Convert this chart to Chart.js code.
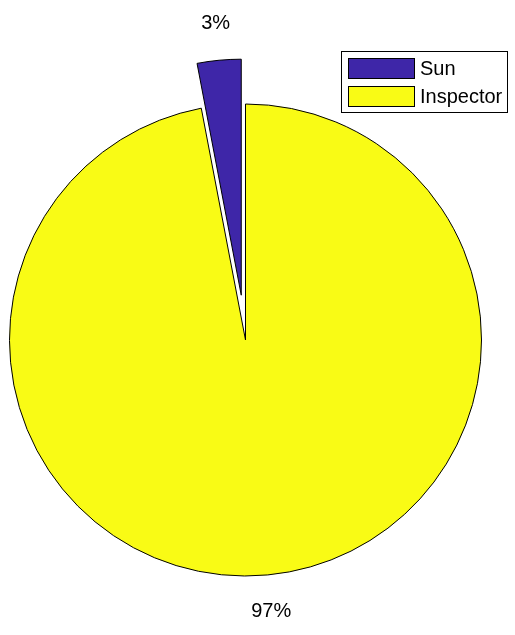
<!DOCTYPE html>
<html>
<head>
<meta charset="utf-8">
<script src="https://cdn.jsdelivr.net/npm/chart.js@4.4.0/dist/chart.umd.min.js"></script>
<style>
  html, body { margin: 0; padding: 0; background: #fff; }
  #wrap { width: 515px; height: 635px; position: relative; }
</style>
</head>
<body>
<div id="wrap"><canvas id="pie"></canvas></div>
<script>
const labels = ['Sun', 'Inspector'];
const values = [3, 97];
const colors = ['#3E26A8', '#F9FB15'];
const explode = [true, false];

const total = values.reduce((a, b) => a + b, 0);
const FONT = '"Liberation Sans", Arial, Helvetica, sans-serif';

// MATLAB pie goes counter-clockwise from 12 o'clock; start rotated back by the first slice
const rotation = -360 * values[0] / total;

const explodePlugin = {
    id: 'explodePlugin',
    afterDatasetUpdate(chart, args) {
        args.meta.data.forEach((arc, i) => {
            if (!explode[i]) return;
            const half = (arc.startAngle + arc.endAngle) / 2;
            arc.x += Math.cos(half) * 45;
            arc.y += Math.sin(half) * 45;
        });
    }
};

const labelPlugin = {
    id: 'labelPlugin',
    afterDatasetsDraw(chart) {
        const ctx = chart.ctx;
        const arcs = chart.getDatasetMeta(0).data;
        ctx.save();
        ctx.font = '20px ' + FONT;
        ctx.fillStyle = '#000';
        ctx.textAlign = 'center';
        ctx.textBaseline = 'middle';
        arcs.forEach((arc, i) => {
            const half = (arc.startAngle + arc.endAngle) / 2;
            const r = arc.outerRadius * 1.155;
            const pct = Math.round(values[i] / total * 100) + '%';
            ctx.fillText(pct, arc.x + Math.cos(half) * r, arc.y + Math.sin(half) * r);
        });
        ctx.restore();
    },
    afterDraw(chart) {
        // boxed legend, top right
        const ctx = chart.ctx;
        ctx.save();
        ctx.fillStyle = '#fff';
        ctx.fillRect(341.5, 51.5, 166, 61);
        ctx.strokeStyle = '#000';
        ctx.lineWidth = 1;
        ctx.strokeRect(341.5, 51.5, 166, 61);
        ctx.font = '20px ' + FONT;
        ctx.textBaseline = 'middle';
        labels.forEach((name, i) => {
            const y = 58.5 + i * 28;
            ctx.fillStyle = colors[i];
            ctx.fillRect(348.5, y, 66, 20);
            ctx.strokeRect(348.5, y, 66, 20);
            ctx.fillStyle = '#000';
            ctx.fillText(name, 420, y + 10.5);
        });
        ctx.restore();
    }
};

new Chart(document.getElementById('pie'), {
    type: 'pie',
    data: {
        labels: labels,
        datasets: [{
            data: values,
            backgroundColor: colors,
            borderColor: '#000',
            borderWidth: 1,
            radius: 236
        }]
    },
    options: {
        responsive: true,
        maintainAspectRatio: false,
        animation: false,
        events: [],
        rotation: rotation,
        layout: { padding: { left: 0, right: 24, top: 45, bottom: 0 } },
        plugins: { legend: { display: false }, tooltip: { enabled: false } }
    },
    plugins: [explodePlugin, labelPlugin]
});
</script>
</body>
</html>
